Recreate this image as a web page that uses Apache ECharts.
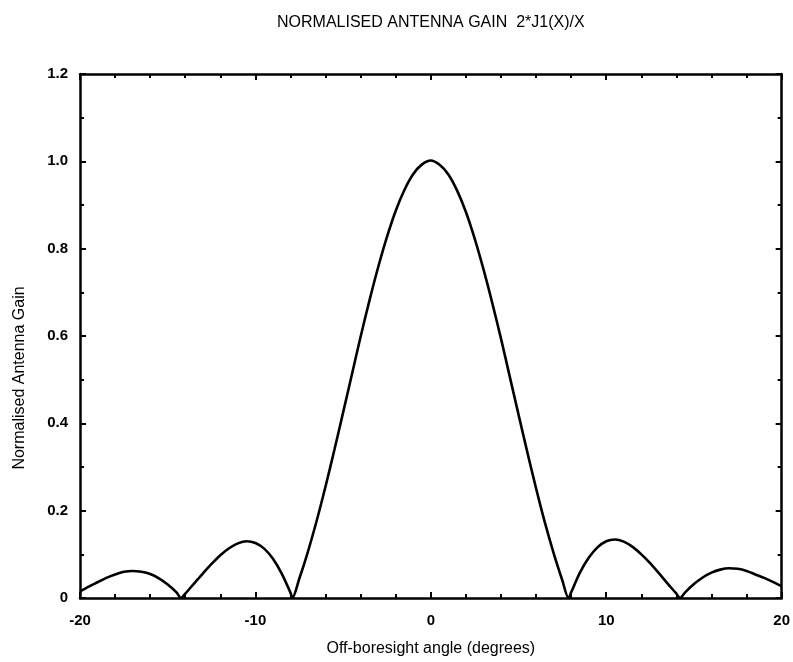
<!DOCTYPE html>
<html>
<head>
<meta charset="utf-8">
<script src="https://cdn.jsdelivr.net/npm/echarts@6/dist/echarts.min.js"></script>
<style>
html,body{margin:0;padding:0;background:#fff;}
#chart{width:793px;height:662px;}
</style>
</head>
<body>
<div id="chart"></div>
<script>
// Off-boresight angle (degrees)
const angles = [
  -20, -19.5, -19, -18.5, -18, -17.5, -17, -16.5, -16, -15.5, -15, -14.5, -14.25,
  -14, -13.5, -13, -12.5, -12, -11.5, -11, -10.5, -10, -9.5, -9, -8.5, -8, -7.9,
  -7.5, -7, -6.5, -6, -5.5, -5, -4.5, -4, -3.5, -3, -2.5, -2, -1.5, -1, -0.5, 0,
  0.5, 1, 1.5, 2, 2.5, 3, 3.5, 4, 4.5, 5, 5.5, 6, 6.5, 7, 7.5, 7.85,
  8, 8.5, 9, 9.5, 10, 10.5, 11, 11.5, 12, 12.5, 13, 13.5, 14, 14.2,
  14.5, 15, 15.5, 16, 16.5, 17, 17.5, 18, 18.5, 19, 19.5, 20
];
// Normalised antenna gain
const gain = [
  0.015, 0.026, 0.036, 0.046, 0.054, 0.060, 0.062, 0.060, 0.055, 0.045, 0.031, 0.013, 0,
  0.010, 0.033, 0.056, 0.078, 0.098, 0.114, 0.125, 0.130, 0.126, 0.113, 0.090, 0.056, 0.012, 0,
  0.044, 0.107, 0.178, 0.256, 0.339, 0.425, 0.512, 0.599, 0.681, 0.758, 0.827, 0.887, 0.935, 0.971, 0.993, 1.002,
  0.992, 0.970, 0.933, 0.884, 0.823, 0.753, 0.676, 0.594, 0.507, 0.420, 0.334, 0.251, 0.173, 0.103, 0.040, 0,
  0.013, 0.058, 0.092, 0.116, 0.130, 0.134, 0.129, 0.117, 0.100, 0.080, 0.057, 0.033, 0.010, 0,
  0.013, 0.032, 0.047, 0.058, 0.065, 0.068, 0.067, 0.062, 0.054, 0.046, 0.037, 0.027
];
const xTicks = [-20, -10, 0, 10, 20];
const yTicks = [0, 0.2, 0.4, 0.6, 0.8, 1.0, 1.2];

const titleText = 'NORMALISED ANTENNA GAIN  2*J1(X)/X';
const xName = 'Off-boresight angle (degrees)';
const yName = 'Normalised Antenna Gain';

const FONT = '"Liberation Sans", Arial, sans-serif';
const data = angles.map((a, i) => [a, gain[i]]);

const chart = echarts.init(document.getElementById('chart'), null, {renderer: 'canvas'});

const axisLine = {show: true, onZero: false, lineStyle: {color: '#000', width: 2.5}};
function xAxisDef(pos, showLabels) {
  return {
    type: 'value', position: pos,
    min: xTicks[0], max: xTicks[xTicks.length - 1], interval: 10,
    axisLine: axisLine,
    axisTick: {show: true, inside: true, length: 6, lineStyle: {color: '#000', width: 2}},
    minorTick: {show: true, splitNumber: 5, length: 4, lineStyle: {color: '#000', width: 2}},
    splitLine: {show: false},
    axisLabel: {show: showLabels, color: '#000', fontFamily: FONT, fontSize: 15, fontWeight: 'bold', margin: 15},
    name: showLabels ? xName : '',
    nameLocation: 'middle', nameGap: 43,
    nameTextStyle: {color: '#000', fontFamily: FONT, fontSize: 16}
  };
}
function yAxisDef(pos, showLabels) {
  return {
    type: 'value', position: pos,
    min: yTicks[0], max: yTicks[yTicks.length - 1], interval: 0.2,
    axisLine: axisLine,
    axisTick: {show: true, inside: true, length: 6, lineStyle: {color: '#000', width: 2}},
    minorTick: {show: true, splitNumber: 2, length: 4, lineStyle: {color: '#000', width: 2}},
    splitLine: {show: false},
    axisLabel: {
      show: showLabels, color: '#000', fontFamily: FONT, fontSize: 15, fontWeight: 'bold', margin: 12,
      formatter: v => (v === 0 ? '0' : v.toFixed(1))
    }
  };
}

chart.setOption({
  backgroundColor: '#fff',
  animation: false,
  title: {
    text: titleText, left: 272, top: 10,
    textStyle: {color: '#000', fontFamily: FONT, fontSize: 16, fontWeight: 'normal'}
  },
  grid: {left: 80, right: 10, top: 74, bottom: 58},
  xAxis: [xAxisDef('bottom', true), xAxisDef('top', false)],
  yAxis: [yAxisDef('left', true), yAxisDef('right', false)],
  graphic: [{
    type: 'text',
    x: 20, y: 378,
    rotation: Math.PI / 2,
    style: {text: yName, fill: '#000', font: '16px ' + FONT, textAlign: 'center', textVerticalAlign: 'middle'}
  }],
  series: [{
    type: 'line', xAxisIndex: 0, yAxisIndex: 0,
    data: data, showSymbol: false, smooth: 0.3, clip: true,
    lineStyle: {color: '#000', width: 2.6}
  }]
});
</script>
</body>
</html>
